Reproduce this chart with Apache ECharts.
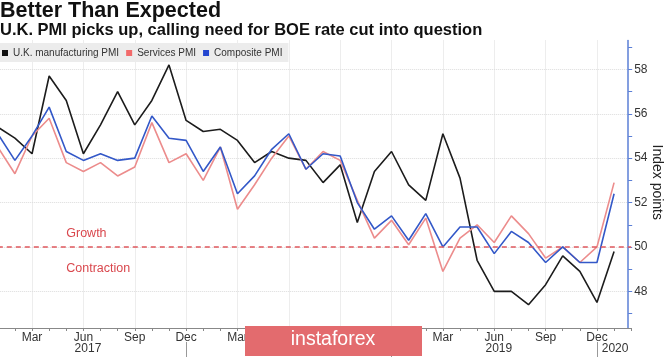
<!DOCTYPE html>
<html><head><meta charset="utf-8">
<script src="https://cdn.jsdelivr.net/npm/echarts@6/dist/echarts.min.js"></script>
<style>html,body{margin:0;padding:0;background:#fff}#c{width:665px;height:357px}</style>
</head><body><div id="c"></div>
<script>
const categories = [
 'Jan 2017','Feb 2017','Mar 2017','Apr 2017','May 2017','Jun 2017','Jul 2017','Aug 2017','Sep 2017','Oct 2017','Nov 2017','Dec 2017',
 'Jan 2018','Feb 2018','Mar 2018','Apr 2018','May 2018','Jun 2018','Jul 2018','Aug 2018','Sep 2018','Oct 2018','Nov 2018','Dec 2018',
 'Jan 2019','Feb 2019','Mar 2019','Apr 2019','May 2019','Jun 2019','Jul 2019','Aug 2019','Sep 2019','Oct 2019','Nov 2019','Dec 2019',
 'Jan 2020','Feb 2020'
];
const manufacturing = [55.4,54.9,54.2,57.7,56.6,54.2,55.5,57.0,55.5,56.6,58.2,55.7,
 55.2,55.3,54.8,53.8,54.3,54.0,53.9,52.9,53.7,51.1,53.4,54.3,
 52.8,52.1,55.1,53.1,49.4,48.0,48.0,47.4,48.3,49.6,48.9,47.5,49.8];
const services = [54.5,53.3,55.0,55.8,53.8,53.4,53.8,53.2,53.6,55.6,53.8,54.2,
 53.0,54.5,51.7,52.8,54.0,55.0,53.5,54.3,53.9,52.1,50.4,51.2,
 50.1,51.3,48.9,50.4,51.0,50.2,51.4,50.6,49.5,50.0,49.3,50.0,52.9];
const composite = [55.1,53.9,55.0,56.3,54.3,53.9,54.2,53.9,54.0,55.9,54.9,54.8,
 53.4,54.5,52.4,53.2,54.4,55.1,53.5,54.2,54.1,52.0,50.8,51.4,
 50.3,51.5,50.0,50.9,50.9,49.7,50.7,50.2,49.3,50.0,49.3,49.3,52.4];
const quarterMonths = ['Mar','Jun','Sep','Dec'];
const yearLabels = ['2017','2018','2019','2020'];
const yLabelValues = [48,50,52,54,56,58];
const yTickValues = [47,48,49,50,51,52,53,54,55,56,57,58,59];
const thresholdValue = 50;
const yMin = 46.35, yMax = 59.3;

const FONT = 'Liberation Sans';
const isQuarter = (i) => quarterMonths.indexOf(categories[i].split(' ')[0]) >= 0;
const isDec = (i) => categories[i].split(' ')[0] === 'Dec';

const chart = echarts.init(document.getElementById('c'), null, {renderer: 'canvas'});
chart.setOption({
  animation: false,
  textStyle: {fontFamily: FONT},
  title: [
    {text: 'Better Than Expected', left: 0, top: 0, padding: 0,
     textStyle: {fontFamily: FONT, fontSize: 21.5, fontWeight: 'bold', color: '#111'}},
    {text: 'U.K. PMI picks up, calling need for BOE rate cut into question', left: 0, top: 22, padding: 0,
     textStyle: {fontFamily: FONT, fontSize: 16.5, fontWeight: 'bold', color: '#111'}}
  ],
  legend: {
    left: 0, top: 43, padding: [5, 6, 4, 2], backgroundColor: '#ececec',
    itemWidth: 6, itemHeight: 6, itemGap: 7, icon: 'rect',
    textStyle: {fontFamily: FONT, fontSize: 10, color: '#333'},
    data: ['U.K. manufacturing PMI', 'Services PMI', 'Composite PMI']
  },
  grid: {left: -2.2, top: 40.5, width: 633.4, height: 287.5, containLabel: false, outerBoundsMode: 'none'},
  xAxis: [
    {type: 'category', data: categories, boundaryGap: false,
     axisLine: {lineStyle: {color: '#888', width: 1}},
     axisTick: {show: true, interval: 0, length: 3, lineStyle: {color: '#888'}},
     axisLabel: {interval: (i) => isQuarter(i), formatter: (v) => v.split(' ')[0],
                 color: '#333', fontSize: 12, margin: 4, fontFamily: FONT},
     splitLine: {show: true, interval: (i) => isQuarter(i), lineStyle: {color: '#dcdcdc', type: 'dotted'}}},
    {type: 'category', data: categories, boundaryGap: false, position: 'bottom', offset: 14,
     axisLine: {show: false},
     axisTick: {show: true, interval: (i) => isDec(i), length: 16, lineStyle: {color: '#999'}},
     axisLabel: {show: false}, splitLine: {show: false}}
  ],
  yAxis: [
    {type: 'value', position: 'right', min: yMin, max: yMax, offset: -3,
     axisLine: {show: true, lineStyle: {color: '#5b7fd6', width: 1.5}},
     axisTick: {show: false, customValues: yLabelValues},
     axisLabel: {customValues: yLabelValues, color: '#333', fontSize: 12, margin: 6, fontFamily: FONT},
     splitLine: {show: true, lineStyle: {color: '#dcdcdc', type: 'dotted'}}},
    {type: 'value', position: 'right', min: yMin, max: yMax, offset: -3,
     axisLine: {show: false},
     axisTick: {show: true, customValues: yTickValues, length: 4, lineStyle: {color: '#5b7fd6'}},
     axisLabel: {show: false}, splitLine: {show: false}}
  ],
  series: [
    {name: 'U.K. manufacturing PMI', type: 'line', data: manufacturing, symbol: 'none',
     lineStyle: {color: '#1c1c1c', width: 1.6}, itemStyle: {color: '#111'}},
    {name: 'Services PMI', type: 'line', data: services, symbol: 'none',
     lineStyle: {color: '#ec8c8c', width: 1.6}, itemStyle: {color: '#f26a6a'},
     markLine: {silent: true, symbol: 'none', label: {show: false},
       lineStyle: {color: '#e0585e', type: [5, 4], width: 1.5},
       data: [{yAxis: thresholdValue}]}},
    {name: 'Composite PMI', type: 'line', data: composite, symbol: 'none',
     lineStyle: {color: '#3358c8', width: 1.6}, itemStyle: {color: '#2346d0'}}
  ]
});

function px(cat, val) { return chart.convertToPixel({xAxisIndex: 0, yAxisIndex: 0}, [cat, val]); }
const yBase = px(categories[0], yMin)[1];
const yTop = px(categories[0], yMax)[1];
const axisX = px(categories[categories.length - 1], yMin)[0] - 3;
const graphics = [];
const growthPos = px('May 2017', 50.6);
const contrPos = px('May 2017', 49.05);
graphics.push({type: 'text', x: growthPos[0], y: growthPos[1], style: {text: 'Growth', fill: '#d9474d', font: '12.5px ' + FONT, textVerticalAlign: 'middle'}});
graphics.push({type: 'text', x: contrPos[0], y: contrPos[1], style: {text: 'Contraction', fill: '#d9474d', font: '12.5px ' + FONT, textVerticalAlign: 'middle'}});
graphics.push({type: 'text', x: axisX + 29, y: (yBase + yTop) / 2 - 2, rotation: -Math.PI / 2,
  style: {text: 'Index points', fill: '#222', font: '14px ' + FONT, textAlign: 'center', textVerticalAlign: 'middle'}});
yearLabels.forEach((yr) => {
  let x;
  if (categories.indexOf('Jun ' + yr) >= 0 && categories.indexOf('Jul ' + yr) >= 0) {
    x = (px('Jun ' + yr, 50)[0] + px('Jul ' + yr, 50)[0]) / 2 - 4;
  } else {
    x = px('Jan ' + yr, 50)[0] + 1;
  }
  graphics.push({type: 'text', x: x, y: yBase + 21, style: {text: yr, fill: '#333', font: '12px ' + FONT, textAlign: 'center', textVerticalAlign: 'middle'}});
});
// watermark
graphics.push({type: 'rect', shape: {x: 245, y: 326, width: 177, height: 30}, style: {fill: '#e36b6e'}, z: 100});
graphics.push({type: 'text', x: 333, y: 340, z: 101, style: {text: 'instaforex', fill: '#ffffff', font: '19.5px ' + FONT, textAlign: 'center', textVerticalAlign: 'middle'}});
chart.setOption({graphic: graphics});
</script></body></html>
